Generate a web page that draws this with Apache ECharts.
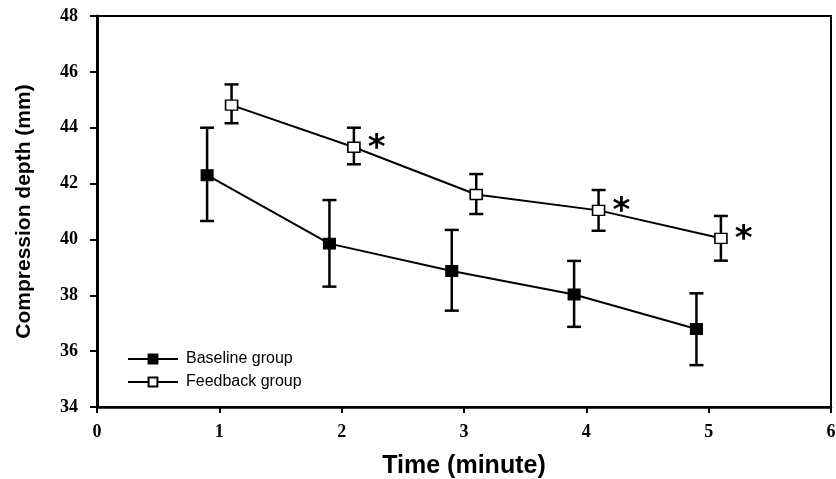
<!DOCTYPE html>
<html>
  <head>
    <meta charset="utf-8" />
    <title>Compression depth over time</title>
    <script src="https://cdn.jsdelivr.net/npm/echarts@6/dist/echarts.min.js"></script>
    <style>
      * {
        padding: 0;
        margin: 0;
      }
      #chart-panel {
        width: 836px;
        height: 479px;
        background: #fff;
      }
    </style>
  </head>
  <body>
    <div id="chart-panel"></div>
    <script type="text/javascript">
      // data
      var seriesNames = ["Baseline group", "Feedback group"];
      var baselineX = [0.9, 1.9, 2.9, 3.9, 4.9];
      var baselineMean = [42.3, 39.85, 38.87, 38.03, 36.79];
      var baselineLow = [40.66, 38.31, 37.45, 36.87, 35.5];
      var baselineHigh = [44.0, 41.41, 40.34, 39.23, 38.07];

      var feedbackX = [1.1, 2.1, 3.1, 4.1, 5.1];
      var feedbackMean = [44.81, 43.3, 41.61, 41.04, 40.04];
      var feedbackLow = [44.16, 42.69, 40.91, 40.31, 39.24];
      var feedbackHigh = [45.55, 44.0, 42.34, 41.77, 40.84];
      // asterisk marks (significant difference)
      var significant = [false, true, false, true, true];

      var myChart = echarts.init(document.getElementById("chart-panel"));

      function pairs(xs, ys) {
        var res = [];
        for (var i = 0; i < xs.length; i++) {
          res.push([xs[i], ys[i]]);
        }
        return res;
      }

      function errData(xs, lo, hi) {
        var res = [];
        for (var i = 0; i < xs.length; i++) {
          res.push([xs[i], lo[i], hi[i]]);
        }
        return res;
      }

      function renderErr(params, api) {
        var x = api.value(0);
        var top = api.coord([x, api.value(2)]);
        var bot = api.coord([x, api.value(1)]);
        var half = 7;
        var style = { stroke: "#000", lineWidth: 2.5 };
        return {
          type: "group",
          children: [
            { type: "line", shape: { x1: top[0], y1: top[1], x2: bot[0], y2: bot[1] }, style: style },
            { type: "line", shape: { x1: top[0] - half, y1: top[1], x2: top[0] + half, y2: top[1] }, style: style },
            { type: "line", shape: { x1: bot[0] - half, y1: bot[1], x2: bot[0] + half, y2: bot[1] }, style: style },
          ],
        };
      }

      var feedbackData = pairs(feedbackX, feedbackMean).map(function (d, i) {
        return {
          value: d,
          label: { show: significant[i] },
        };
      });

      var tickFont = {
        color: "#000",
        fontFamily: "Liberation Serif",
        fontWeight: "bold",
        fontSize: 18,
      };

      var option = {
        animation: false,
        backgroundColor: "#fff",
        grid: {
          left: 97,
          right: 5,
          top: 16,
          bottom: 72,
          outerBoundsMode: "none",
          containLabel: false,
          show: true,
          borderColor: "#000",
          borderWidth: 2,
        },
        legend: {
          data: seriesNames,
          orient: "vertical",
          left: 122,
          top: 346,
          itemWidth: 50,
          itemHeight: 11,
          itemGap: 7,
          textStyle: {
            color: "#000",
            fontFamily: "Liberation Sans",
            fontSize: 16,
            padding: [0, 0, 0, 3],
          },
        },
        xAxis: {
          type: "value",
          min: 0,
          max: 6,
          interval: 1,
          name: "Time (minute)",
          nameLocation: "middle",
          nameGap: 47,
          nameTextStyle: {
            color: "#000",
            fontFamily: "Liberation Sans",
            fontWeight: "bold",
            fontSize: 25,
          },
          splitLine: { show: false },
          axisLine: { lineStyle: { color: "#000", width: 2.5 } },
          axisTick: { length: 6, lineStyle: { color: "#000", width: 2 } },
          axisLabel: Object.assign({ margin: 16 }, tickFont),
        },
        yAxis: {
          type: "value",
          min: 34,
          max: 48,
          interval: 2,
          name: "Compression depth (mm)",
          nameLocation: "middle",
          nameGap: 62,
          nameTextStyle: {
            color: "#000",
            fontFamily: "Liberation Sans",
            fontWeight: "bold",
            fontSize: 21,
          },
          splitLine: { show: false },
          axisLine: { lineStyle: { color: "#000", width: 3 } },
          axisTick: { length: 7, lineStyle: { color: "#000", width: 2 } },
          axisLabel: Object.assign({ margin: 19 }, tickFont),
        },
        series: [
          {
            type: "custom",
            renderItem: renderErr,
            data: errData(baselineX, baselineLow, baselineHigh),
            encode: { x: 0, y: [1, 2] },
            z: 1,
            silent: true,
          },
          {
            type: "custom",
            renderItem: renderErr,
            data: errData(feedbackX, feedbackLow, feedbackHigh),
            encode: { x: 0, y: [1, 2] },
            z: 1,
            silent: true,
          },
          {
            name: seriesNames[0],
            type: "line",
            data: pairs(baselineX, baselineMean),
            symbol: "rect",
            symbolSize: [12, 11],
            showAllSymbol: true,
            lineStyle: { color: "#000", width: 2 },
            itemStyle: { color: "#000", borderColor: "#000", borderWidth: 1 },
            z: 3,
          },
          {
            name: seriesNames[1],
            type: "line",
            data: feedbackData,
            symbol: "rect",
            symbolSize: [12, 10],
            showAllSymbol: true,
            lineStyle: { color: "#000", width: 2 },
            itemStyle: { color: "#fff", borderColor: "#000", borderWidth: 1.5 },
            label: {
              show: false,
              formatter: "*",
              position: "right",
              distance: 7,
              offset: [0, 2],
              color: "#000",
              fontFamily: "DejaVu Sans",
              fontWeight: "bold",
              fontSize: 34,
            },
            z: 3,
          },
        ],
      };

      myChart.setOption(option);
      window.addEventListener("resize", myChart.resize);
    </script>
  </body>
</html>
